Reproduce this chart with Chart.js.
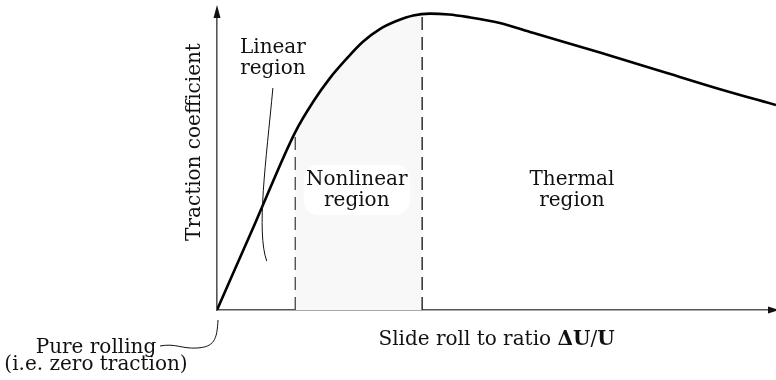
<!DOCTYPE html>
<html>
<head>
<meta charset="utf-8">
<script src="https://cdn.jsdelivr.net/npm/chart.js@4"></script>
<style>
body{margin:0;background:#fff;}
</style>
</head>
<body>
<canvas id="myChart" width="776" height="380"></canvas>
<script>
// traction curve, arbitrary units (x: slide/roll ratio 0-100, y: traction 0-100)
let slip = [0, 7, 14, 17.2, 20.2, 23.3, 26.1, 29.2, 32.2, 35.1, 38.1, 41.5, 44.7, 50.6, 56.5, 68.5, 80.5, 90, 100];
let traction = [0, 29.7, 59.3, 69.4, 77.3, 84.0, 89.4, 93.7, 96.4, 98.2, 98.8, 98.5, 97.7, 95.7, 92.4, 85.8, 79.0, 73.6, 68.3];

// region boundaries (dashed lines) and where they meet the curve
let boundaryX = [14, 36.7];
let boundaryTop = [59.3, 98.6];

let regionNames = [['Linear', 'region'], ['Nonlinear', 'region'], ['Thermal', 'region']];
let regionAt = [[10.0, 85.7], [25.0, 41.7], [63.5, 41.7]]; // centre x, first baseline y

let font = '"DejaVu Serif", serif';

// light fill under the curve, nonlinear region only
const shade = {
    id: 'shade',
    beforeDatasetsDraw(chart) {
        const {ctx, chartArea, scales: {x, y}} = chart;
        const line = chart.getDatasetMeta(0).dataset;
        const x0 = x.getPixelForValue(boundaryX[0]);
        const x1 = x.getPixelForValue(boundaryX[1]);
        const yb = y.getPixelForValue(0);
        ctx.save();
        ctx.beginPath();
        ctx.rect(x0, chartArea.top - 5, x1 - x0, yb - chartArea.top + 5);
        ctx.clip();
        ctx.beginPath();
        if (line.path) {
            line.path(ctx);
        } else {
            chart.getDatasetMeta(0).data.forEach((p, i) => i ? ctx.lineTo(p.x, p.y) : ctx.moveTo(p.x, p.y));
        }
        ctx.lineTo(x.getPixelForValue(slip[slip.length - 1]), yb);
        ctx.lineTo(x.getPixelForValue(0), yb);
        ctx.closePath();
        ctx.fillStyle = '#f8f8f8';
        ctx.fill();
        ctx.restore();
    }
};

// arrows, labels and leader lines
const notes = {
    id: 'notes',
    afterDraw(chart) {
        const {ctx, chartArea, scales: {x, y}} = chart;
        const px = v => x.getPixelForValue(v);
        const py = v => y.getPixelForValue(v);
        const ox = px(0), oy = py(0);
        ctx.save();

        // axis arrows
        ctx.fillStyle = '#111';
        ctx.beginPath();
        ctx.moveTo(ox, chartArea.top - 5);
        ctx.lineTo(ox - 3.5, chartArea.top + 8);
        ctx.lineTo(ox + 3.5, chartArea.top + 8);
        ctx.closePath();
        ctx.fill();
        ctx.beginPath();
        ctx.moveTo(chartArea.right + 3, oy);
        ctx.lineTo(chartArea.right - 8, oy - 3.5);
        ctx.lineTo(chartArea.right - 8, oy + 3.5);
        ctx.closePath();
        ctx.fill();

        // white patch behind the nonlinear label
        const nx = px(regionAt[1][0]), ny = py(regionAt[1][1]);
        ctx.fillStyle = '#fff';
        ctx.beginPath();
        ctx.roundRect(nx - 53, ny - 20, 106, 50, 14);
        ctx.fill();

        // region labels
        ctx.fillStyle = '#111';
        ctx.font = '20px ' + font;
        ctx.textAlign = 'center';
        ctx.textBaseline = 'alphabetic';
        regionNames.forEach((lines, i) => {
            lines.forEach((t, j) => ctx.fillText(t, px(regionAt[i][0]), py(regionAt[i][1]) + j * 21));
        });

        // y title
        ctx.save();
        ctx.translate(ox - 17, (chartArea.top + oy) / 2 - 18);
        ctx.rotate(-Math.PI / 2);
        ctx.fillText('Traction coefficient', 0, 0);
        ctx.restore();

        // x title, with bold ΔU / U
        const parts = [['Slide roll to ratio ', ''], ['ΔU', 'bold '], ['/', ''], ['U', 'bold ']];
        let w = 0;
        parts.forEach(p => { ctx.font = p[1] + '20px ' + font; w += ctx.measureText(p[0]).width; });
        let tx = (chartArea.left + chartArea.right) / 2 - w / 2;
        ctx.textAlign = 'left';
        parts.forEach(p => {
            ctx.font = p[1] + '20px ' + font;
            ctx.fillText(p[0], tx, oy + 35);
            tx += ctx.measureText(p[0]).width;
        });

        // pure rolling note
        ctx.font = '20px ' + font;
        ctx.textAlign = 'center';
        ctx.fillText('Pure rolling', ox - 121, oy + 43);
        ctx.fillText('(i.e. zero traction)', ox - 121, oy + 60);

        // leader lines
        ctx.strokeStyle = '#111';
        ctx.lineWidth = 1;
        ctx.beginPath();
        ctx.moveTo(px(10.0), py(74));
        ctx.bezierCurveTo(px(8.8), py(50), px(7.0), py(26), px(8.9), py(16.3));
        ctx.stroke();
        ctx.beginPath();
        ctx.moveTo(ox + 1, oy + 10);
        ctx.bezierCurveTo(ox, oy + 30, ox - 3, oy + 37, ox - 20, oy + 38);
        ctx.bezierCurveTo(ox - 35, oy + 39, ox - 42, oy + 33, ox - 57, oy + 36);
        ctx.stroke();

        ctx.restore();
    }
};

let ctx = document.getElementById('myChart').getContext('2d');
let myChart = new Chart(ctx, {
    type: 'line',
    data: {
        datasets: [
            {
                data: slip.map((v, i) => ({x: v, y: traction[i]})),
                borderColor: '#000',
                borderWidth: 2.6,
                pointRadius: 0,
                cubicInterpolationMode: 'monotone',
                fill: false
            },
            {
                data: [{x: boundaryX[0], y: 0}, {x: boundaryX[0], y: boundaryTop[0]}],
                borderColor: '#444',
                borderWidth: 1.3,
                borderDash: [13, 7],
                pointRadius: 0
            },
            {
                data: [{x: boundaryX[1], y: 0}, {x: boundaryX[1], y: boundaryTop[1]}],
                borderColor: '#111',
                borderWidth: 1.3,
                borderDash: [13, 7],
                pointRadius: 0
            }
        ]
    },
    options: {
        responsive: false,
        animation: false,
        layout: {padding: {left: 217, right: 0, top: 10, bottom: 70}},
        plugins: {
            legend: {display: false},
            tooltip: {enabled: false}
        },
        scales: {
            x: {
                type: 'linear', min: 0, max: 100,
                grid: {display: false, drawTicks: false},
                ticks: {display: false},
                border: {display: true, color: '#555', width: 1.6}
            },
            y: {
                type: 'linear', min: 0, max: 100,
                grid: {display: false, drawTicks: false},
                ticks: {display: false},
                border: {display: true, color: '#555', width: 1.6}
            }
        }
    },
    plugins: [shade, notes]
});
</script>
</body>
</html>
